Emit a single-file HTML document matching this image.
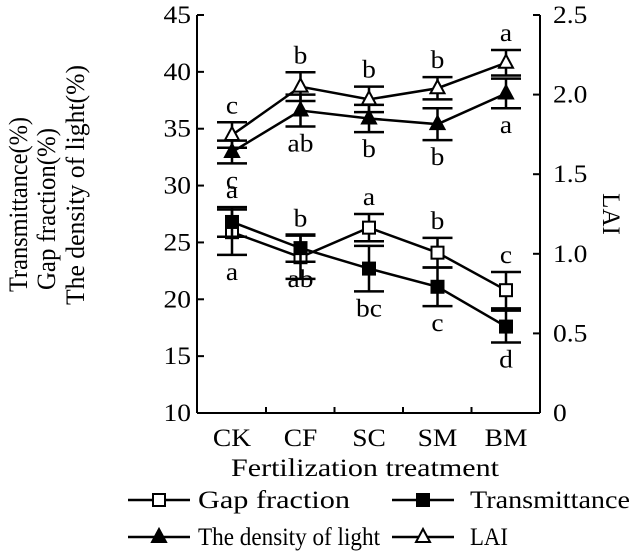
<!DOCTYPE html>
<html><head><meta charset="utf-8"><style>
html,body{margin:0;padding:0;background:#fff;}
svg{display:block;font-family:"Liberation Serif",serif;}
</style></head><body>
<svg id="chart" width="644" height="555" viewBox="0 0 644 555">
<g id="axes"></g><g id="series"></g><g id="legend"></g>
</svg>
<script>
const categories=["CK","CF","SC","SM","BM"];
const gapFraction=[25.9,23.7,26.3,24.1,20.8];
const gapErr=[2.0,1.9,1.2,1.3,1.6];
const gapLetters=["a","b","a","b","c"];
const transmittance=[26.8,24.5,22.7,21.1,17.6];
const transErr=[1.3,1.2,2.0,1.7,1.4];
const transLetters=["a","ab","bc","c","d"];
const density=[32.95,36.6,35.9,35.4,38.1];
const densityErr=[1.0,1.4,1.2,1.4,1.3];
const densityLetters=["c","ab","b","b","a"];
const lai=[1.746,2.05,1.97,2.04,2.20];
const laiErr=[0.08,0.09,0.08,0.07,0.08];
const laiLetters=["c","b","b","b","a"];
const leftTicks=[10,15,20,25,30,35,40,45];
const rightTicks=[0,0.5,1.0,1.5,2.0,2.5];

const NS="http://www.w3.org/2000/svg";
const X0=197,X1=540,Y0=413,Y1=15,SX=1.1,FS=25;
const xPos=i=>232+i*68.5;
const yL=v=>Y0-(v-10)/35*(Y0-Y1);
const yR=v=>Y0-v/2.5*(Y0-Y1);
function mk(parent,tag,attrs,txt){const e=document.createElementNS(NS,tag);for(const k in attrs)e.setAttribute(k,attrs[k]);if(txt!==undefined)e.textContent=txt;parent.appendChild(e);return e;}
function txt(parent,x,y,s,anchor){return mk(parent,'text',{x:0,y:0,'text-anchor':anchor||'middle','font-size':FS,transform:`translate(${x},${y}) scale(${SX},1)`},s);}
function ftxt(parent,x,y,s,anchor,L){return mk(parent,'text',{x:x,y:y,'text-anchor':anchor,'font-size':FS,textLength:L,lengthAdjust:'spacingAndGlyphs'},s);}
const axes=document.getElementById('axes'),ser=document.getElementById('series'),leg=document.getElementById('legend');
const la=mk(axes,'line',{x1:X0,y1:Y1,x2:X0,y2:Y0,stroke:'#000','stroke-width':2});

const ra=mk(axes,'line',{x1:X1,y1:Y1,x2:X1,y2:Y0,stroke:'#000','stroke-width':2});

const xa=mk(axes,'line',{x1:X0,y1:Y0,x2:X1,y2:Y0,stroke:'#000','stroke-width':2});

leftTicks.forEach(v=>{mk(axes,'line',{x1:X0,y1:yL(v),x2:X0+7,y2:yL(v),stroke:'#000','stroke-width':2});
 const t=txt(axes,191,yL(v)+8,String(v),'end');
 });
rightTicks.forEach(v=>{mk(axes,'line',{x1:X1-7,y1:yR(v),x2:X1,y2:yR(v),stroke:'#000','stroke-width':2});
 const t=txt(axes,553,yR(v)+8,v===0?'0':v.toFixed(1),'start');
 });
for(let i=0;i<categories.length-1;i++){mk(axes,'line',{x1:xPos(i)+34,y1:Y0,x2:xPos(i)+34,y2:Y0-6,stroke:'#000','stroke-width':2});}
categories.forEach((c,i)=>{const t=txt(axes,xPos(i),446,c);
 });
const xt=ftxt(axes,365,476,'Fertilization treatment','middle',268);

[["Transmittance(%)",27,292,175],["Gap fraction(%)",55,290,162],["The density of light(%)",84,305,240]].forEach(([s,x,y,L])=>{
 const t=mk(axes,'text',{x:x,y:y,'font-size':26,transform:`rotate(-90 ${x} ${y})`,'text-anchor':'start',textLength:L,lengthAdjust:'spacingAndGlyphs'},s);
 });
const rt=mk(axes,'text',{x:603,y:214,'font-size':25,'text-anchor':'middle',transform:'rotate(90 603 214)'},'LAI');


function marker(g,x,y,type,s){s=s||1;
 if(type==='sq'||type==='fsq')return mk(g,'rect',{x:x-6*s,y:y-6*s,width:12*s,height:12*s,fill:type==='fsq'?'#000':'#fff',stroke:'#000','stroke-width':2});
 return mk(g,'polygon',{points:`${x},${y-8*s} ${x-7*s},${y+5*s} ${x+7*s},${y+5*s}`,fill:type==='ftri'?'#000':'#fff',stroke:'#000','stroke-width':2});
}
function series(name,vals,errs,letters,ys,type,above){
 const g=mk(ser,'g',{});
 mk(g,'polyline',{points:vals.map((v,i)=>xPos(i)+','+ys(v)).join(' '),fill:'none',stroke:'#000','stroke-width':2.5});
 vals.forEach((v,i)=>{const x=xPos(i),t=ys(v+errs[i]),b=ys(v-errs[i]);
  const e=mk(g,'path',{d:`M${x},${t}V${b}M${x-15},${t}H${x+15}M${x-15},${b}H${x+15}`,stroke:'#000','stroke-width':2.5,fill:'none'});
  
  const m=marker(g,x,ys(v),type);
  
  const l=txt(g,x,above[i]?t-9:b+25,letters[i]);
  });
}
series('gap-fraction',gapFraction,gapErr,gapLetters,yL,'sq',[false,true,true,true,true]);
series('transmittance',transmittance,transErr,transLetters,yL,'fsq',[true,false,false,false,false]);
series('density-of-light',density,densityErr,densityLetters,yL,'ftri',[false,false,false,false,false]);
series('lai',lai,laiErr,laiLetters,yR,'tri',[true,true,true,true,true]);

[["Gap fraction",128,500,'sq',198,152],["Transmittance",392,500,'fsq',470,160],["The density of light",128,537,'ftri',198,182],["LAI",392,537,'tri',470,38]].forEach(([s,x,y,t,tx,L])=>{
 const g=mk(leg,'g',{});
 mk(g,'line',{x1:x,y1:y,x2:x+62,y2:y,stroke:'#000','stroke-width':2.5});
 marker(g,x+31,y,t);
 ftxt(g,tx,y+8,s,'start',L);
});
</script>
</body></html>
